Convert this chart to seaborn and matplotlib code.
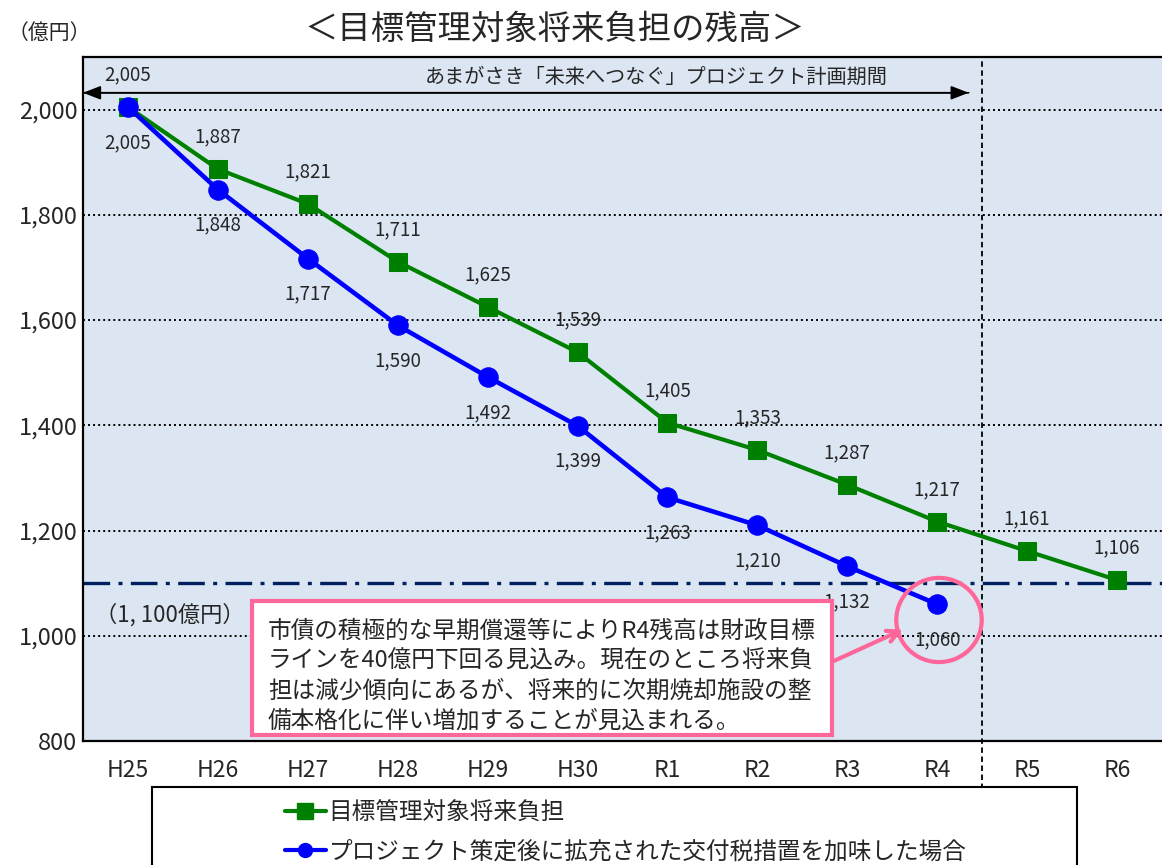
import numpy as np
import pandas as pd
import matplotlib
matplotlib.use("Agg")
import matplotlib.pyplot as plt
from matplotlib.patches import Ellipse, Rectangle
from matplotlib.lines import Line2D
import seaborn as sns

# ---- data -------------------------------------------------------------
years = ["H25", "H26", "H27", "H28", "H29", "H30", "R1", "R2", "R3", "R4", "R5", "R6"]
target_burden = [2005, 1887, 1821, 1711, 1625, 1539, 1405, 1353, 1287, 1217, 1161, 1106]
with_tax_measures = [2005, 1848, 1717, 1590, 1492, 1399, 1263, 1210, 1132, 1060]
target_line = 1100
y_ticks = [800, 1000, 1200, 1400, 1600, 1800, 2000]

series_green = "目標管理対象将来負担"
series_blue = "プロジェクト策定後に拡充された交付税措置を加味した場合"
title = "＜目標管理対象将来負担の残高＞"
unit = "（億円）"
period_text = "あまがさき「未来へつなぐ」プロジェクト計画期間"
target_text = "（1, 100億円）"
note_text = ("市債の積極的な早期償還等によりR4残高は財政目標\n"
             "ラインを40億円下回る見込み。現在のところ将来負\n"
             "担は減少傾向にあるが、将来的に次期焼却施設の整\n"
             "備本格化に伴い増加することが見込まれる。")

sns.set_theme(style="white")
plt.rcParams["font.family"] = ["Noto Sans CJK JP", "DejaVu Sans"]

GREEN = "#008000"
BLUE = "#0000FF"
NAVY = "#002060"
PINK = "#FF6699"

df_g = pd.DataFrame({"pos": np.arange(len(target_burden)), "value": target_burden})
df_b = pd.DataFrame({"pos": np.arange(len(with_tax_measures)), "value": with_tax_measures})

fig = plt.figure(figsize=(11.62, 8.65), dpi=100)
ax = fig.add_axes([83 / 1162, 1 - 741 / 865, 1 - 83 / 1162, (741 - 57) / 865])
ax.set_facecolor("#DCE6F2")

ax.set_xlim(-0.5, 11.5)
ax.set_ylim(800, 2100)

# horizontal dotted grid
for v in y_ticks[1:]:
    ax.axhline(v, color="black", lw=1.4, ls=(0, (1, 1.6)), zorder=1)

# financial target line
ax.axhline(target_line, color=NAVY, lw=2.4, dashes=(8, 2.5, 1.2, 2.5), zorder=2)

# end of project period
ax.axvline(9.5, ymin=-0.07, ymax=1, color="black", lw=1.3, ls=(0, (3, 2)),
           clip_on=False, zorder=2)

sns.lineplot(data=df_g, x="pos", y="value", ax=ax, color=GREEN, lw=3,
             marker="s", markersize=13, markeredgecolor=GREEN, zorder=4)
sns.lineplot(data=df_b, x="pos", y="value", ax=ax, color=BLUE, lw=3.3,
             marker="o", markersize=14, markeredgecolor=BLUE, zorder=5)

# value labels
lab_fs = 13.5
for i, v in enumerate(target_burden):
    ax.annotate(f"{v:,}", (i, v), xytext=(0, 23), textcoords="offset points",
                ha="center", va="center", fontsize=lab_fs, zorder=3)
for i, v in enumerate(with_tax_measures):
    ax.annotate(f"{v:,}", (i, v), xytext=(0, -25.5), textcoords="offset points",
                ha="center", va="center", fontsize=lab_fs, zorder=3)

# project period arrow
ax.annotate("", xy=(-0.5, 2032), xytext=(9.35, 2032),
            arrowprops=dict(arrowstyle="-|>,head_length=0.9,head_width=0.35",
                            color="black", lw=1.2, shrinkA=0, shrinkB=0))
ax.annotate("", xy=(9.35, 2032), xytext=(-0.5, 2032),
            arrowprops=dict(arrowstyle="-|>,head_length=0.9,head_width=0.35",
                            color="black", lw=1.2, shrinkA=0, shrinkB=0))
ax.text(5.87, 2062, period_text, ha="center", va="center", fontsize=14.5)

ax.text(0.47, 1040, target_text, ha="center", va="center", fontsize=16)

# highlight around R4
ax.add_patch(Ellipse((9.02, 1030), 0.95, 160, fill=False, ec=PINK, lw=3, zorder=6))

# note box
fig.patches.append(Rectangle((252 / 1162, 1 - 735 / 865), 580 / 1162, 134 / 865,
                             transform=fig.transFigure, fc="white", ec=PINK, lw=3,
                             zorder=7))
fig.text(268 / 1162, 1 - 676 / 865, note_text, ha="left", va="center",
         fontsize=17, linespacing=1.4, zorder=8)
ax.annotate("", xy=(8.62, 1012), xytext=(7.85, 952),
            arrowprops=dict(arrowstyle="->,head_length=0.7,head_width=0.35",
                            color=PINK, lw=3, shrinkA=0, shrinkB=0), zorder=8)

# axes styling
ax.set_xticks(np.arange(len(years)))
ax.set_xticklabels(years, fontsize=16.5)
ax.set_yticks(y_ticks)
ax.set_yticklabels([f"{v:,}" for v in y_ticks], fontsize=17)
ax.tick_params(axis="x", length=0, pad=13)
ax.tick_params(axis="y", length=0, pad=4)
ax.set_xlabel("")
ax.set_ylabel("")
for side in ["left", "bottom", "top"]:
    ax.spines[side].set_color("black")
    ax.spines[side].set_linewidth(1.6)
ax.spines["right"].set_visible(False)

fig.text(555 / 1162, 1 - 29 / 865, title, ha="center", va="center", fontsize=24)
fig.text(8 / 1162, 1 - 33 / 865, unit, ha="left", va="center", fontsize=15)

# legend
fig.patches.append(Rectangle((152 / 1162, -0.05), 925 / 1162, (865 - 787) / 865 + 0.05,
                             transform=fig.transFigure, fc="white", ec="black", lw=1.5))
handles = [
    Line2D([], [], color=GREEN, lw=3, marker="s", markersize=11),
    Line2D([], [], color=BLUE, lw=3, marker="o", markersize=10),
]
fig.legend(handles, [series_green, series_blue], loc="upper left",
           bbox_to_anchor=(268 / 1162, 1 - 785 / 865), frameon=False,
           fontsize=17, handlelength=1.75, handletextpad=0.12,
           labelspacing=0.68, borderpad=0.2)

fig.savefig("out.png", dpi=100)
